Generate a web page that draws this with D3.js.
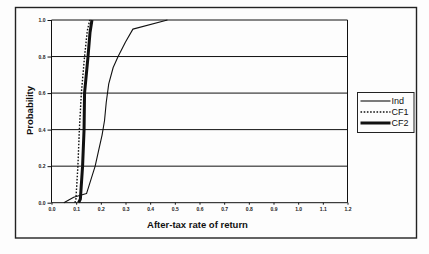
<!DOCTYPE html>
<html>
<head>
<meta charset="utf-8">
<script src="https://cdn.jsdelivr.net/npm/d3@7"></script>
<style>
  html, body { margin: 0; padding: 0; background: #fdfdfd; }
  svg { display: block; font-family: "Liberation Sans", Arial, sans-serif; }
</style>
</head>
<body>
<div id="viz"></div>
<script>
// tick values
var xTicks = [0, 0.1, 0.2, 0.3, 0.4, 0.5, 0.6, 0.7, 0.8, 0.9, 1.0, 1.1, 1.2];
var yTicks = [0, 0.2, 0.4, 0.6, 0.8, 1.0];

// series (rate of return, cumulative probability)
var seriesNames = ["Ind", "CF1", "CF2"];
var indX = [0.05, 0.09, 0.142, 0.177, 0.19, 0.205, 0.215, 0.222, 0.232, 0.25, 0.27, 0.30, 0.33, 0.47];
var indY = [0, 0.03, 0.05, 0.2, 0.28, 0.37, 0.45, 0.55, 0.65, 0.74, 0.8, 0.88, 0.95, 1.0];
var cf1X = [0.095, 0.099, 0.107, 0.113, 0.121, 0.134, 0.145, 0.155];
var cf1Y = [0, 0.02, 0.2, 0.4, 0.6, 0.8, 0.94, 1.0];
var cf2X = [0.11, 0.117, 0.126, 0.132, 0.134, 0.148, 0.156, 0.164];
var cf2Y = [0, 0.02, 0.2, 0.4, 0.6, 0.8, 0.93, 1.0];

var W = 429, H = 254;
var svg = d3.select("#viz").append("svg")
  .attr("width", W)
  .attr("height", H);

// outer frame
svg.append("rect")
  .attr("x", 15.5).attr("y", 7.5)
  .attr("width", 401).attr("height", 230.5)
  .attr("fill", "none")
  .attr("stroke", "#222")
  .attr("stroke-width", 1.4);

var x = d3.scaleLinear().domain([0, 1.2]).range([51.5, 347.5]);
var y = d3.scaleLinear().domain([0, 1]).range([202.7, 20]);

// horizontal gridlines
svg.append("g").selectAll("line")
  .data(yTicks)
  .enter().append("line")
  .attr("x1", x(0)).attr("x2", x(1.2))
  .attr("y1", function(d) { return y(d); })
  .attr("y2", function(d) { return y(d); })
  .attr("stroke", "#111")
  .attr("stroke-width", 1);

// plot border: left and right
svg.append("line")
  .attr("x1", x(0)).attr("x2", x(0))
  .attr("y1", y(0)).attr("y2", y(1))
  .attr("stroke", "#111").attr("stroke-width", 1);
svg.append("line")
  .attr("x1", x(1.2)).attr("x2", x(1.2))
  .attr("y1", y(0)).attr("y2", y(1))
  .attr("stroke", "#111").attr("stroke-width", 1);

var fmt = d3.format(".1f");

var yAxis = svg.append("g")
  .attr("transform", "translate(" + x(0) + ",0)")
  .call(d3.axisLeft(y).tickValues(yTicks).tickFormat(fmt).tickSize(4).tickPadding(2));
var xAxis = svg.append("g")
  .attr("transform", "translate(0," + y(0) + ")")
  .call(d3.axisBottom(x).tickValues(xTicks).tickFormat(fmt).tickSize(2).tickPadding(3));

[xAxis, yAxis].forEach(function(a) {
  a.select(".domain").remove();
  a.selectAll(".tick line").attr("stroke", "#111");
  a.selectAll(".tick text")
    .attr("fill", "#222")
    .style("font-size", "5px")
    .style("font-weight", "bold");
});

// series lines
var line = d3.line()
  .x(function(d) { return x(d[0]); })
  .y(function(d) { return y(d[1]); });

var series = [
  { name: seriesNames[0], pts: d3.zip(indX, indY), width: 1.1, dash: null },
  { name: seriesNames[1], pts: d3.zip(cf1X, cf1Y), width: 1.4, dash: "1.6,1.6" },
  { name: seriesNames[2], pts: d3.zip(cf2X, cf2Y), width: 3, dash: null }
];

svg.append("g").selectAll("path")
  .data(series)
  .enter().append("path")
  .attr("d", function(d) { return line(d.pts); })
  .attr("fill", "none")
  .attr("stroke", "#111")
  .attr("stroke-linejoin", "round")
  .attr("stroke-width", function(d) { return d.width; })
  .attr("stroke-dasharray", function(d) { return d.dash; });

// axis titles
svg.append("text")
  .attr("x", 197.5).attr("y", 228)
  .attr("text-anchor", "middle")
  .style("font-size", "9.5px")
  .style("font-weight", "bold")
  .attr("fill", "#111")
  .text("After-tax rate of return");

svg.append("text")
  .attr("transform", "translate(33,110.5) rotate(-90)")
  .attr("text-anchor", "middle")
  .style("font-size", "9.5px")
  .style("font-weight", "bold")
  .attr("fill", "#111")
  .text("Probability");

// legend
var legend = svg.append("g").attr("transform", "translate(357.5,92.5)");
legend.append("rect")
  .attr("width", 56.5).attr("height", 40)
  .attr("fill", "#fdfdfd")
  .attr("stroke", "#222")
  .attr("stroke-width", 1);

var item = legend.selectAll("g.item")
  .data(series)
  .enter().append("g")
  .attr("class", "item")
  .attr("transform", function(d, i) { return "translate(0," + (8.5 + i * 11) + ")"; });

item.append("line")
  .attr("x1", 3).attr("x2", 33)
  .attr("stroke", "#111")
  .attr("stroke-width", function(d) { return d.width; })
  .attr("stroke-dasharray", function(d) { return d.dash; });

item.append("text")
  .attr("x", 34)
  .attr("dy", "0.35em")
  .style("font-size", "9px")
  .attr("fill", "#111")
  .text(function(d) { return d.name; });
</script>
</body>
</html>
